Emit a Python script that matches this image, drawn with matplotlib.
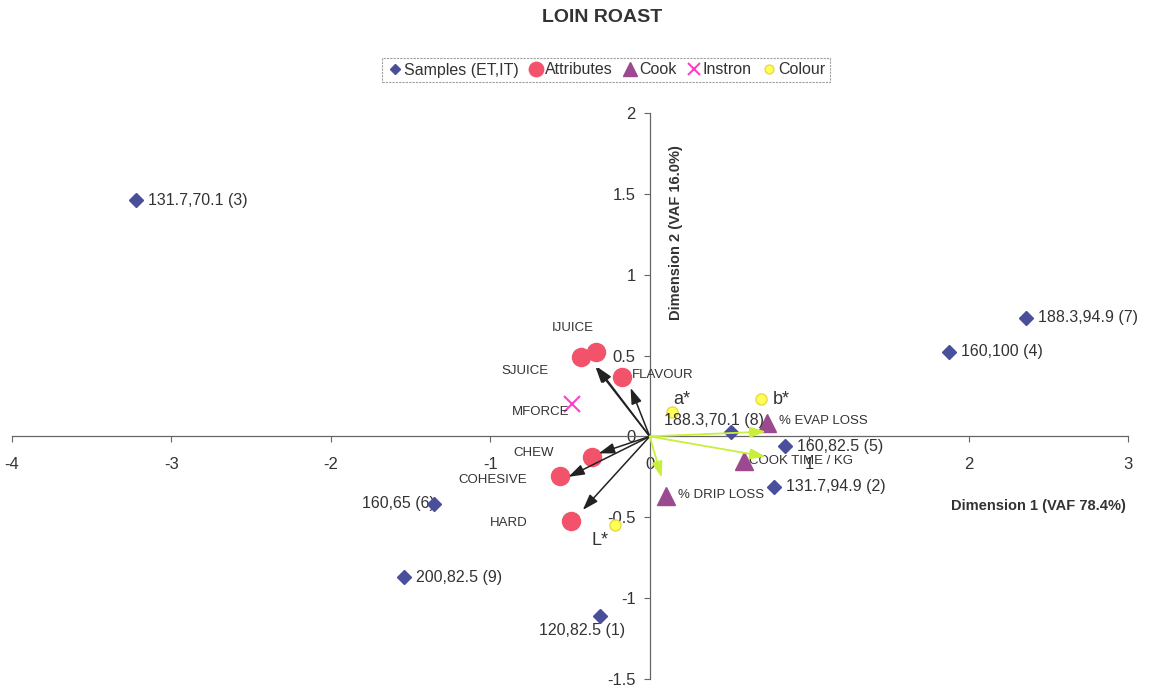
import matplotlib
matplotlib.use('Agg')
import matplotlib.pyplot as plt

plt.rcParams['font.family'] = ['Liberation Sans', 'DejaVu Sans']

# samples: (ET, IT) combos
sample_labels = ['131.7,70.1 (3)', '188.3,94.9 (7)', '160,100 (4)', '188.3,70.1 (8)',
                 '160,82.5 (5)', '131.7,94.9 (2)', '160,65 (6)', '200,82.5 (9)', '120,82.5 (1)']
sample_x = [-3.22, 2.36, 1.875, 0.51, 0.85, 0.78, -1.35, -1.54, -0.31]
sample_y = [1.46, 0.735, 0.525, 0.03, -0.06, -0.31, -0.415, -0.87, -1.11]

# sensory attributes and their loading vectors
attr_labels = ['IJUICE', 'SJUICE', 'FLAVOUR', 'CHEW', 'COHESIVE', 'HARD']
attr_x = [-0.34, -0.43, -0.175, -0.365, -0.56, -0.495]
attr_y = [0.525, 0.49, 0.37, -0.13, -0.245, -0.525]
attr_vec_x = [-0.33, -0.34, -0.12, -0.32, -0.51, -0.42]
attr_vec_y = [0.43, 0.43, 0.30, -0.105, -0.25, -0.455]

# cooking measurements
cook_labels = ['% EVAP LOSS', 'COOK TIME / KG', '% DRIP LOSS']
cook_x = [0.735, 0.59, 0.105]
cook_y = [0.085, -0.155, -0.37]
cook_vec_x = [0.73, 0.73, 0.075]
cook_vec_y = [0.03, -0.125, -0.255]

# instron
instron_labels = ['MFORCE']
instron_x = [-0.49]
instron_y = [0.2]

# colour
colour_labels = ['a*', 'b*', 'L*']
colour_x = [0.14, 0.695, -0.215]
colour_y = [0.15, 0.23, -0.545]

# label offsets in pixels (dx, dy, ha)
sample_offsets = [(12, 0, 'left'), (12, 0, 'left'), (12, 0, 'left'), (-67, 11, 'left'),
                  (12, 0, 'left'), (12, 0, 'left'), (0, 0, 'right'), (12, 0, 'left'),
                  (-18, -15, 'center')]
attr_offsets = [(-23, 24, 'center'), (-56, -14, 'center'), (10, 2, 'left'),
                (-58, 4, 'center'), (-68, -4, 'center'), (-62, -2, 'center')]
cook_offsets = [(12, 2, 'left'), (5, 0, 'left'), (12, 1, 'left')]
instron_offsets = [(-31, -8, 'center')]
colour_offsets = [(10, 13, 'center'), (21, 0, 'center'), (-15, -16, 'center')]

BLUE = '#4a4f9c'
RED = '#f2536b'
PURPLE = '#9b4a90'
MAGENTA = '#ff3fc8'
YELLOW = '#ffff55'
LIME = '#c8f03a'

fig = plt.figure(figsize=(11.55, 6.9), dpi=100)
ax = fig.add_axes([12 / 1155, 11 / 690, 1116 / 1155, 566 / 690])


def label_points(xs, ys, labels, offsets, size):
    for x, y, text, (dx, dy, ha) in zip(xs, ys, labels, offsets):
        ax.annotate(text, (x, y), xytext=(dx * 0.72, dy * 0.72), textcoords='offset points',
                    ha=ha, va='center', fontsize=size, color='#333333')


ax.plot(sample_x, sample_y, 'D', color=BLUE, ms=7, label='Samples (ET,IT)', zorder=4)
ax.plot(attr_x, attr_y, 'o', color=RED, ms=13, label='Attributes', zorder=3)
ax.plot(cook_x, cook_y, '^', color=PURPLE, ms=13, label='Cook', zorder=3)
ax.plot(instron_x, instron_y, 'x', color=MAGENTA, ms=11, mew=1.5, label='Instron', zorder=3)
ax.plot(colour_x, colour_y, 'o', color=YELLOW, mec='#e8d84a', ms=8, label='Colour', zorder=3)

head = '-|>,head_length=0.6,head_width=0.2'
for vx, vy in zip(attr_vec_x, attr_vec_y):
    ax.annotate('', xy=(vx, vy), xytext=(0, 0),
                arrowprops=dict(arrowstyle=head, color='#222222', lw=1.1, mutation_scale=16,
                                shrinkA=0, shrinkB=0), zorder=5)
for vx, vy in zip(cook_vec_x, cook_vec_y):
    ax.annotate('', xy=(vx, vy), xytext=(0, 0),
                arrowprops=dict(arrowstyle=head, color=LIME, lw=1.3, mutation_scale=16,
                                shrinkA=0, shrinkB=0), zorder=5)

label_points(sample_x, sample_y, sample_labels, sample_offsets, 11.5)
label_points(attr_x, attr_y, attr_labels, attr_offsets, 9.5)
label_points(cook_x, cook_y, cook_labels, cook_offsets, 9.5)
label_points(instron_x, instron_y, instron_labels, instron_offsets, 9.5)
label_points(colour_x, colour_y, colour_labels, colour_offsets, 13)

ax.set_xlim(-4, 3)
ax.set_ylim(-1.5, 2)
ax.set_xticks([-4, -3, -2, -1, 0, 1, 2, 3])
ax.set_yticks([-1.5, -1, -0.5, 0, 0.5, 1, 1.5, 2])
ax.set_xticklabels(['-4', '-3', '-2', '-1', '0', '1', '2', '3'])
ax.set_yticklabels(['-1.5', '-1', '-0.5', '0', '0.5', '1', '1.5', '2'])
for side in ['top', 'right']:
    ax.spines[side].set_visible(False)
for side in ['left', 'bottom']:
    ax.spines[side].set_position(('data', 0))
    ax.spines[side].set_color('#666666')
    ax.spines[side].set_linewidth(0.9)
ax.tick_params(axis='x', direction='out', length=4, pad=11, labelsize=12, colors='#666666',
               labelcolor='#333333')
ax.tick_params(axis='y', direction='out', length=4, pad=6, labelsize=12, colors='#666666',
               labelcolor='#333333')
ax.patch.set_visible(False)

ax.text(1038 / 1155, 1 - 506 / 690, 'Dimension 1 (VAF 78.4%)', transform=fig.transFigure,
        ha='center', va='center', fontsize=10.5, fontweight='bold', color='#333333')
ax.text(676 / 1155, 1 - 233 / 690, 'Dimension 2 (VAF 16.0%)', transform=fig.transFigure,
        ha='center', va='center', rotation=90, fontsize=10.5, fontweight='bold', color='#333333')
fig.text(602 / 1155, 1 - 18 / 690, 'LOIN ROAST', ha='center', va='center',
         fontsize=14, fontweight='bold', color='#333333')

leg = fig.legend(loc='center', bbox_to_anchor=(606 / 1155, 1 - 70 / 690), ncol=5,
                 fontsize=11.5, frameon=True, fancybox=False, handletextpad=0.05,
                 columnspacing=0.6, handlelength=1.0, borderpad=0.3, markerscale=0.8,
                 labelcolor='#333333')
leg.get_frame().set_edgecolor('#888888')
leg.get_frame().set_linewidth(0.8)
leg.get_frame().set_linestyle((0, (2, 1)))

fig.savefig('out.png', dpi=100)
